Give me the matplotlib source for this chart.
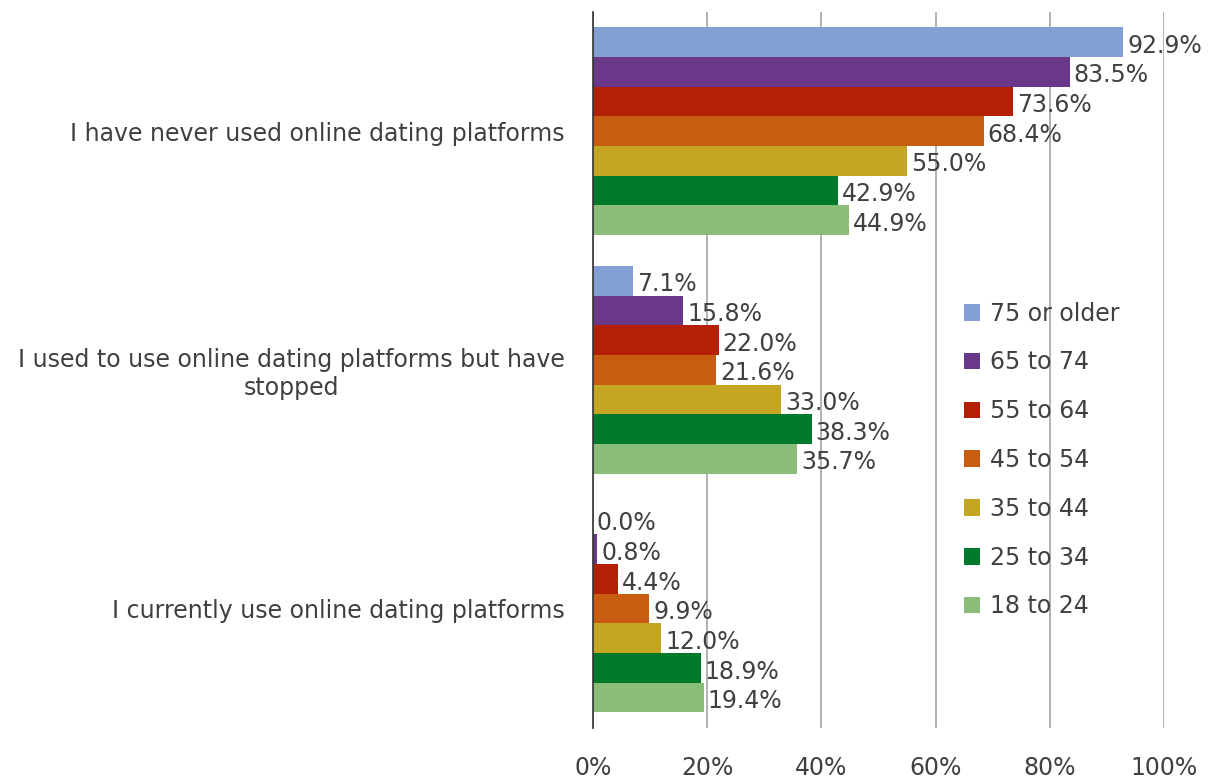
import numpy as np
import matplotlib.pyplot as plt
from matplotlib.ticker import PercentFormatter

# categories (top to bottom)
categories = ["I have never used online dating platforms",
              "I used to use online dating platforms but have\nstopped",
              "I currently use online dating platforms"]

age_groups = ["75 or older", "65 to 74", "55 to 64", "45 to 54",
              "35 to 44", "25 to 34", "18 to 24"]

never = [92.9, 83.5, 73.6, 68.4, 55.0, 42.9, 44.9]
stopped = [7.1, 15.8, 22.0, 21.6, 33.0, 38.3, 35.7]
current = [0.0, 0.8, 4.4, 9.9, 12.0, 18.9, 19.4]

colors = ["#849FD4", "#6A3889", "#B22006", "#C85C10",
          "#C5A623", "#007A2A", "#8ABE78"]

data = np.array([never, stopped, current])  # rows: category, cols: age group

fig = plt.figure(figsize=(12.1, 7.79), dpi=100)
ax = fig.add_axes([0.490, 0.0655, 0.472, 0.9195])

n = len(age_groups)
h = 0.87 / n
y = np.arange(len(categories))
txt = "#404040"
fs = 17

for j in range(n):
    pos = y + (j - (n - 1) / 2) * h
    vals = data[:, j]
    ax.barh(pos, vals, height=h, color=colors[j], label=age_groups[j], zorder=2)
    for p, v in zip(pos, vals):
        ax.text(v + 0.7, p + 0.015, f"{v:.1f}%", va="center", ha="left",
                fontsize=fs, color=txt, zorder=3)

ax.set_xlim(0, 100)
ax.set_ylim(len(categories) - 0.5, -0.5)
ax.set_xticks(np.arange(0, 101, 20))
ax.xaxis.set_major_formatter(PercentFormatter(decimals=0))
ax.set_yticks(y)
ax.set_yticklabels(categories, fontsize=fs, color=txt, ha="right",
                   multialignment="center")
ax.tick_params(axis="y", length=0, pad=20)
ax.tick_params(axis="x", length=0, pad=20, labelsize=fs, labelcolor=txt)

ax.grid(axis="x", color="#A6A6A6", linewidth=1.2, zorder=0)
for s in ["top", "right", "bottom"]:
    ax.spines[s].set_visible(False)
ax.spines["left"].set_color("#333333")
ax.spines["left"].set_linewidth(1.2)
ax.spines["left"].set_zorder(4)

leg = ax.legend(loc="upper left", bbox_to_anchor=(0.612, 0.625), frameon=False,
                fontsize=fs, labelcolor=txt, handlelength=0.7, handleheight=0.7,
                handletextpad=0.4, labelspacing=1.05)

fig.savefig("out.png", dpi=100, facecolor="white")
